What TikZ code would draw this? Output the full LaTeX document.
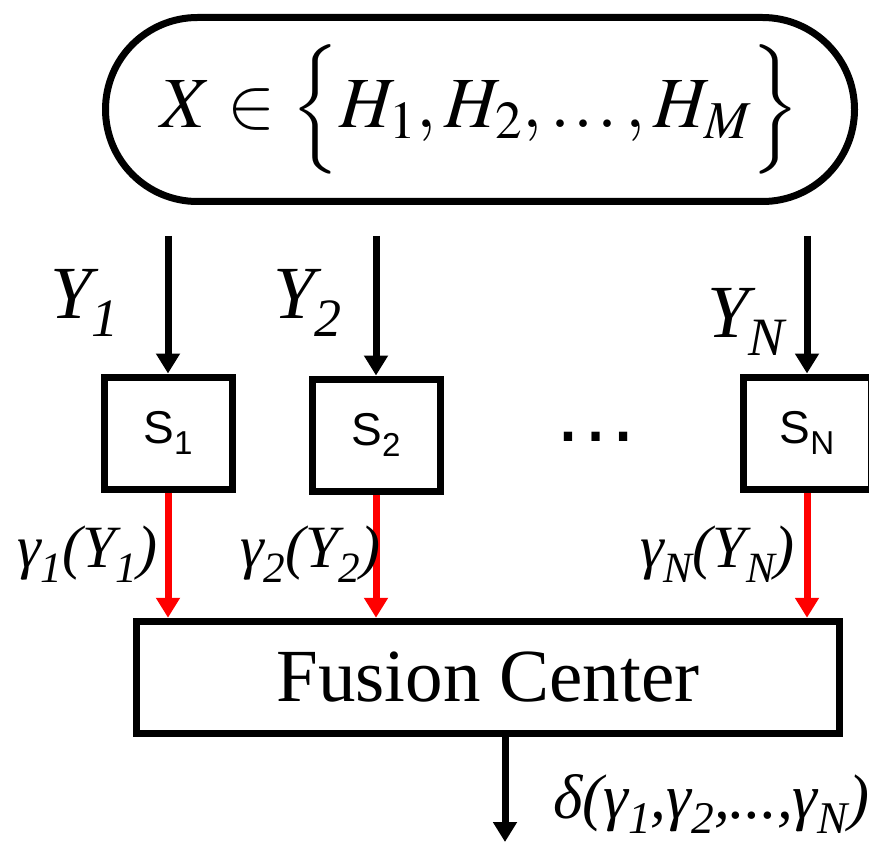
\documentclass[tikz,border=0pt]{standalone}
\usepackage{amsmath}
\usepackage{mathptmx}
\usepackage{graphicx}
\usepackage[no-math]{fontspec}
\setmainfont{Liberation Serif}
\setsansfont{Liberation Sans}
\usepackage{tikz}
\usetikzlibrary{arrows.meta}
\usetikzlibrary{shapes.misc}
\newcommand{\lo}[1]{\raisebox{-.25em}{\scalebox{0.72}{#1}}}

\begin{document}
\begin{tikzpicture}[x=1pt, y=-1pt,
  sensor/.style={draw, line width=7pt, minimum width=128pt, minimum height=112pt, inner sep=0pt, font=\sffamily\fontsize{46}{46}\selectfont},
  arr/.style={line width=7pt, -{Triangle[width=23pt,length=20pt]}},
  obs/.style={anchor=base west, inner sep=0pt, font=\itshape\fontsize{75}{75}\selectfont},
  dec/.style={anchor=base west, inner sep=0pt, font=\itshape\fontsize{60}{60}\selectfont}]
\useasboundingbox (0,0) rectangle (869,842);
% hypotheses
\node[draw, line width=7pt, rounded rectangle, minimum width=749pt, minimum height=184pt, inner sep=0pt, font=\fontsize{72}{72}\selectfont] (hyp) at (480,109.5)
  {$X\in\Bigl\{H_1,H_2,\mathinner{.\mkern1mu.\mkern1mu.},H_M\Bigr\}$};
% sensors
\node[sensor] (s1) at (168,433) {S\lo{1}};
\node[sensor] (s2) at (376,435) {S\lo{2}};
\node[sensor] (sn) at (807,433) {S\lo{N}};
\node[anchor=base, inner sep=0pt, font=\sffamily\fontsize{87}{87}\selectfont] (dots) at (596,441) {\symbol{"2026}};
\coordinate (in1) at (168,236); \coordinate (in2) at (376,236); \coordinate (inn) at (807,236);
\draw[arr] (in1) -- (s1); \draw[arr] (in2) -- (s2); \draw[arr] (inn) -- (sn);
\node[obs] (y1) at (50,318) {Y\lo{1}};
\node[obs] (y2) at (273,318) {Y\lo{2}};
\node[obs] (yn) at (707,337) {Y\lo{N}};
% fusion center
\node[draw, line width=7.5pt, minimum width=703pt, minimum height=112pt, inner sep=0pt, font=\fontsize{75}{75}\selectfont] (fc) at (488,677.5) {Fusion Center};
\draw[arr, red] (s1) -- (s1 |- fc.north);
\draw[arr, red] (s2) -- (s2 |- fc.north);
\draw[arr, red] (sn) -- (sn |- fc.north);
\node[dec] (g1) at (17,567) {γ\lo{1}(Y\lo{1})};
\node[dec] (g2) at (240,567) {γ\lo{2}(Y\lo{2})};
\node[dec] (gn) at (640,567) {γ\lo{N}(Y\lo{N})};
% decision
\coordinate (out) at (505,842);
\draw[arr] (out |- fc.south) -- (out);
\node[dec, font=\itshape\fontsize{63}{63}\selectfont] (d) at (553,818) {δ(γ\lo{1},γ\lo{2},...,γ\lo{N})};
\end{tikzpicture}
\end{document}
